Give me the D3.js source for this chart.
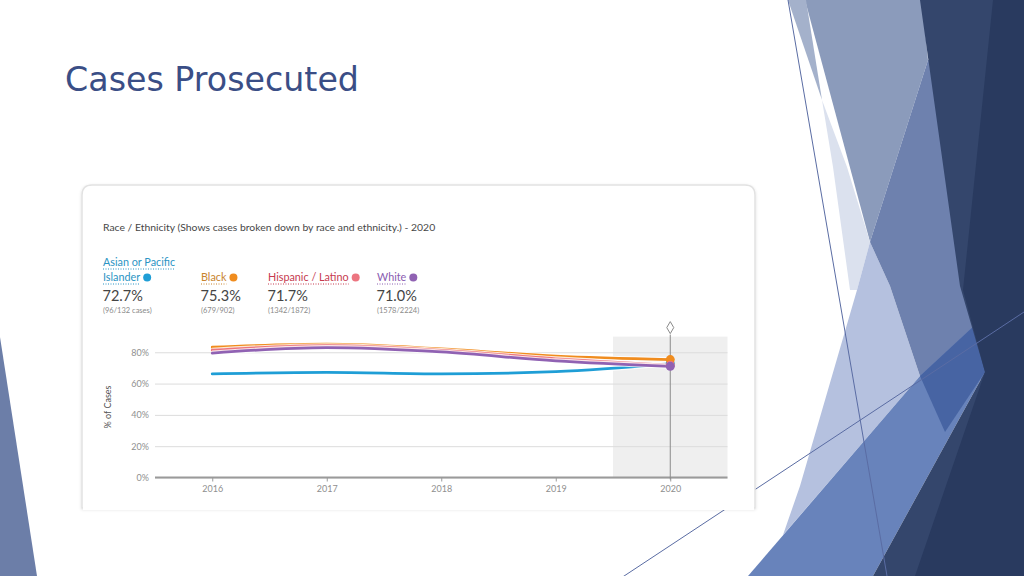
<!DOCTYPE html>
<html>
<head>
<meta charset="utf-8">
<script src="https://cdn.jsdelivr.net/npm/d3@7"></script>
<style>
  html, body { margin: 0; padding: 0; background: #fff; }
  svg { display: block; }
</style>
</head>
<body>
<svg id="slide" width="1024" height="576"></svg>
<script>
// ---- data ----
const years = [2016, 2017, 2018, 2019, 2020];
const seriesNames = ["Asian or Pacific Islander", "Black", "Hispanic / Latino", "White"];
const asianValues    = [66.2, 67.2, 66.2, 67.6, 72.7];
const blackValues    = [83.2, 85.2, 82.2, 77.5, 75.3];
const hispanicValues = [81.3, 84.2, 81.2, 75.8, 71.7];
const whiteValues    = [79.5, 83.0, 80.2, 74.5, 71.0];
const legendPercents = ["72.7%", "75.3%", "71.7%", "71.0%"];
const legendCounts   = ["(96/132 cases)", "(679/902)", "(1342/1872)", "(1578/2224)"];
const yTicks = [0, 20, 40, 60, 80];
const yTickLabels = ["0%", "20%", "40%", "60%", "80%"];
const xTickLabels = ["2016", "2017", "2018", "2019", "2020"];
const selectedYear = 2020;

const colors = ["#1f9ed6", "#f08c1e", "#ec7580", "#9062b3"];
const textColors = ["#2b94c4", "#c8842e", "#c63a4f", "#8a5cb0"];

const svg = d3.select("#slide");

// ---- slide decoration (theme shapes) ----
const deco = svg.append("g");
const polys = [
  {c: "#6c7ea8", p: [[0,337],[37,576],[0,576]]},
  {c: "#8b9bbb", p: [[805,0],[922,0],[928,60],[870,242]]},
  {c: "#a4b1cb", p: [[788,0],[806,0],[822,100]]},
  {c: "#dbe1ee", p: [[822,100],[847,167],[870,242],[857,290],[850,290],[833,167]]},
  {c: "#b5c1df", p: [[870,242],[890,286],[920,376],[783,535],[800,486],[857,290]]},
  {c: "#6e81ae", p: [[928,60],[992,60],[992,380],[920,376],[890,286],[870,242]]},
  {c: "#6883bb", p: [[748,576],[920,376],[975,325],[985,372],[873,576]]},
  {c: "#4764a3", p: [[920,376],[975,325],[985,372],[945,432]]},
  {c: "#34466c", p: [[920,0],[1024,0],[1024,576],[873,576],[985,372],[960,286]]},
  {c: "#293a5f", p: [[993,0],[1024,0],[1024,576],[915,576],[985,372],[963,290]]}
];
deco.selectAll("polygon").data(polys).join("polygon")
  .attr("points", d => d.p.map(q => q.join(",")).join(" "))
  .attr("fill", d => d.c);
deco.append("line").attr("x1", 788).attr("y1", 0).attr("x2", 887).attr("y2", 576)
  .attr("stroke", "#5a6ca3").attr("stroke-width", 1);
deco.append("line").attr("x1", 615).attr("y1", 582).attr("x2", 1024).attr("y2", 312)
  .attr("stroke", "#5a6ca3").attr("stroke-width", 1);

// ---- title ----
svg.append("text")
  .attr("x", 65).attr("y", 91)
  .attr("font-family", "DejaVu Sans, Verdana, sans-serif")
  .attr("font-size", 34)
  .attr("textLength", 294).attr("lengthAdjust", "spacingAndGlyphs")
  .attr("fill", "#3a4e86")
  .text("Cases Prosecuted");

// ---- card ----
const defs = svg.append("defs");
const f = defs.append("filter").attr("id", "shadow").attr("x", "-5%").attr("y", "-5%").attr("width", "110%").attr("height", "110%");
f.append("feDropShadow").attr("dx", 0).attr("dy", 1).attr("stdDeviation", 1.5).attr("flood-color", "#000").attr("flood-opacity", 0.12);

const cx0 = 82, cy0 = 185, cx1 = 755, cy1 = 508, r = 10;
svg.append("path")
  .attr("d", `M${cx0},${cy1} L${cx0},${cy0 + r} Q${cx0},${cy0} ${cx0 + r},${cy0} L${cx1 - r},${cy0} Q${cx1},${cy0} ${cx1},${cy0 + r} L${cx1},${cy1} Z`)
  .attr("fill", "#fff").attr("stroke", "#e2e2e2").attr("stroke-width", 1.5)
  .attr("filter", "url(#shadow)");
svg.append("rect").attr("x", cx0 + 1).attr("y", cy1 - 1).attr("width", cx1 - cx0 - 2).attr("height", 3).attr("fill", "#fff");

const font = "Lato, 'Open Sans', sans-serif";

svg.append("text")
  .attr("x", 103).attr("y", 231)
  .attr("font-family", font).attr("font-size", 10.4)
  .attr("fill", "#474747")
  .text("Race / Ethnicity (Shows cases broken down by race and ethnicity.) - 2020");

// ---- legend ----
const legendX = [103, 201, 268, 377];
const legend = svg.append("g");
seriesNames.forEach((name, i) => {
  const g = legend.append("g");
  const lines = i === 0 ? ["Asian or Pacific", "Islander"] : [name];
  const baseY = 281;
  lines.forEach((ln, j) => {
    const y = baseY - (lines.length - 1 - j) * 15;
    const t = g.append("text")
      .attr("x", legendX[i]).attr("y", y)
      .attr("font-family", font).attr("font-size", 10.8)
      .attr("fill", textColors[i]).text(ln);
    const w = t.node().getComputedTextLength();
    g.append("line")
      .attr("x1", legendX[i]).attr("x2", legendX[i] + w)
      .attr("y1", y + 3).attr("y2", y + 3)
      .attr("stroke", textColors[i]).attr("stroke-width", 1)
      .attr("stroke-dasharray", "1,1.5");
    if (j === lines.length - 1) {
      g.append("circle").attr("cx", legendX[i] + w + 7).attr("cy", y - 3.5).attr("r", 4)
        .attr("fill", colors[i]);
    }
  });
  g.append("text")
    .attr("x", legendX[i] - 0.5).attr("y", 301)
    .attr("font-family", font).attr("font-size", 14.5)
    .attr("fill", "#444").text(legendPercents[i]);
  g.append("text")
    .attr("x", legendX[i]).attr("y", 313)
    .attr("font-family", font).attr("font-size", 7.5)
    .attr("fill", "#8a8a8a").text(legendCounts[i]);
});

// ---- chart ----
const x = d3.scaleLinear().domain([2015.5, 2020.5]).range([155, 727.5]);
const y = d3.scaleLinear().domain([0, 90]).range([477.5, 336.6]);

svg.append("rect")
  .attr("x", x(selectedYear - 0.5)).attr("y", y(90))
  .attr("width", x(selectedYear + 0.5) - x(selectedYear - 0.5))
  .attr("height", y(0) - y(90))
  .attr("fill", "#efefef");

const yAxis = d3.axisLeft(y).tickValues(yTicks)
  .tickFormat((d, i) => yTickLabels[i])
  .tickSize(-(x.range()[1] - x.range()[0])).tickPadding(6);
const gy = svg.append("g").attr("transform", `translate(${x.range()[0]},0)`).call(yAxis);
gy.select(".domain").remove();
gy.selectAll(".tick line").attr("stroke", "#dcdcdc").attr("stroke-width", 1);
gy.selectAll(".tick text").attr("font-family", font).attr("font-size", 9).attr("fill", "#8f8f8f");

const xAxis = d3.axisBottom(x).tickValues(years)
  .tickFormat((d, i) => xTickLabels[i]).tickSize(4).tickPadding(4);
const gx = svg.append("g").attr("transform", `translate(0,${y(0)})`).call(xAxis);
gx.select(".domain").attr("stroke", "#9a9a9a").attr("stroke-width", 2)
  .attr("d", `M${x.range()[0]},0H${x.range()[1]}`);
gx.selectAll(".tick line").attr("stroke", "#9a9a9a");
gx.selectAll(".tick text").attr("font-family", font).attr("font-size", 9).attr("fill", "#8f8f8f");

svg.append("text")
  .attr("transform", "translate(111,407) rotate(-90)")
  .attr("text-anchor", "middle")
  .attr("font-family", font).attr("font-size", 9).attr("fill", "#555")
  .text("% of Cases");

svg.append("line")
  .attr("x1", x(selectedYear)).attr("x2", x(selectedYear))
  .attr("y1", y(90) - 2).attr("y2", y(0) + 2)
  .attr("stroke", "#8a8a8a").attr("stroke-width", 1);
const dx = x(selectedYear), dy = y(90) - 9;
svg.append("path")
  .attr("d", `M${dx},${dy - 6} L${dx + 3.5},${dy} L${dx},${dy + 6} L${dx - 3.5},${dy} Z`)
  .attr("fill", "#fff").attr("stroke", "#8a8a8a").attr("stroke-width", 1);

const allSeries = [asianValues, blackValues, hispanicValues, whiteValues];
const line = d3.line().x((d, i) => x(years[i])).y(d => y(d)).curve(d3.curveMonotoneX);
const lg = svg.append("g");
allSeries.forEach((vals, i) => {
  lg.append("path").attr("d", line(vals)).attr("fill", "none")
    .attr("stroke", "#fff").attr("stroke-width", 5).attr("stroke-opacity", 0.8);
  lg.append("path").attr("d", line(vals)).attr("fill", "none")
    .attr("stroke", colors[i]).attr("stroke-width", 2.8).attr("stroke-linecap", "round");
});
const last = years.length - 1;
allSeries.forEach((vals, i) => {
  lg.append("circle").attr("cx", x(years[last])).attr("cy", y(vals[last])).attr("r", 4.5)
    .attr("fill", colors[i]);
});
</script>
</body>
</html>
